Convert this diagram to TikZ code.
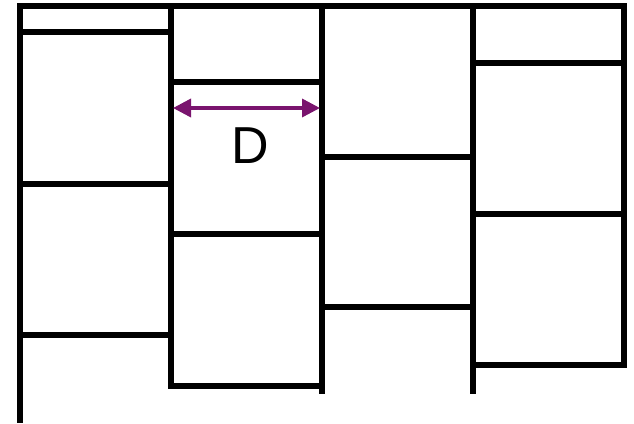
\documentclass[tikz,border=0pt]{standalone}
\usepackage{fontspec}
\setmainfont{Liberation Sans}
\usetikzlibrary{arrows.meta}
\definecolor{spanpurple}{RGB}{122,20,110}

\begin{document}
\begin{tikzpicture}[x=1pt, y=-1pt,
    wall/.style={line width=5.5pt, line cap=rect},
    span/.style={{Triangle[length=18pt,width=18pt]}-{Triangle[length=18pt,width=18pt]}, draw=spanpurple, line width=3.5pt}]
    \useasboundingbox (0,0) rectangle (634,423);
    % top edge and column walls
    \draw[wall] (20,6) -- (624,6);
    \draw[wall] (20,6) -- (20,420);
    \draw[wall] (171,6) -- (171,386);
    \draw[wall] (322,6) -- (322,391);
    \draw[wall] (473,6) -- (473,391);
    \draw[wall] (624,6) -- (624,365);
    % courses, first column
    \draw[wall] (20,32) -- (171,32);
    \draw[wall] (20,184) -- (171,184);
    \draw[wall] (20,335) -- (171,335);
    % courses, second column
    \draw[wall] (171,82) -- (322,82);
    \draw[wall] (171,234) -- (322,234);
    \draw[wall] (171,386) -- (322,386);
    % courses, third column
    \draw[wall] (322,157) -- (473,157);
    \draw[wall] (322,307) -- (473,307);
    % courses, fourth column
    \draw[wall] (473,63) -- (624,63);
    \draw[wall] (473,214) -- (624,214);
    \draw[wall] (473,365) -- (624,365);
    % width of one column
    \coordinate (spanleft) at (173,108);
    \coordinate (spanright) at (320,108);
    \draw[span] (spanleft) -- (spanright);
    \node[font=\fontsize{52}{52}\selectfont] (dlabel) at (250,146) {D};
\end{tikzpicture}
\end{document}
